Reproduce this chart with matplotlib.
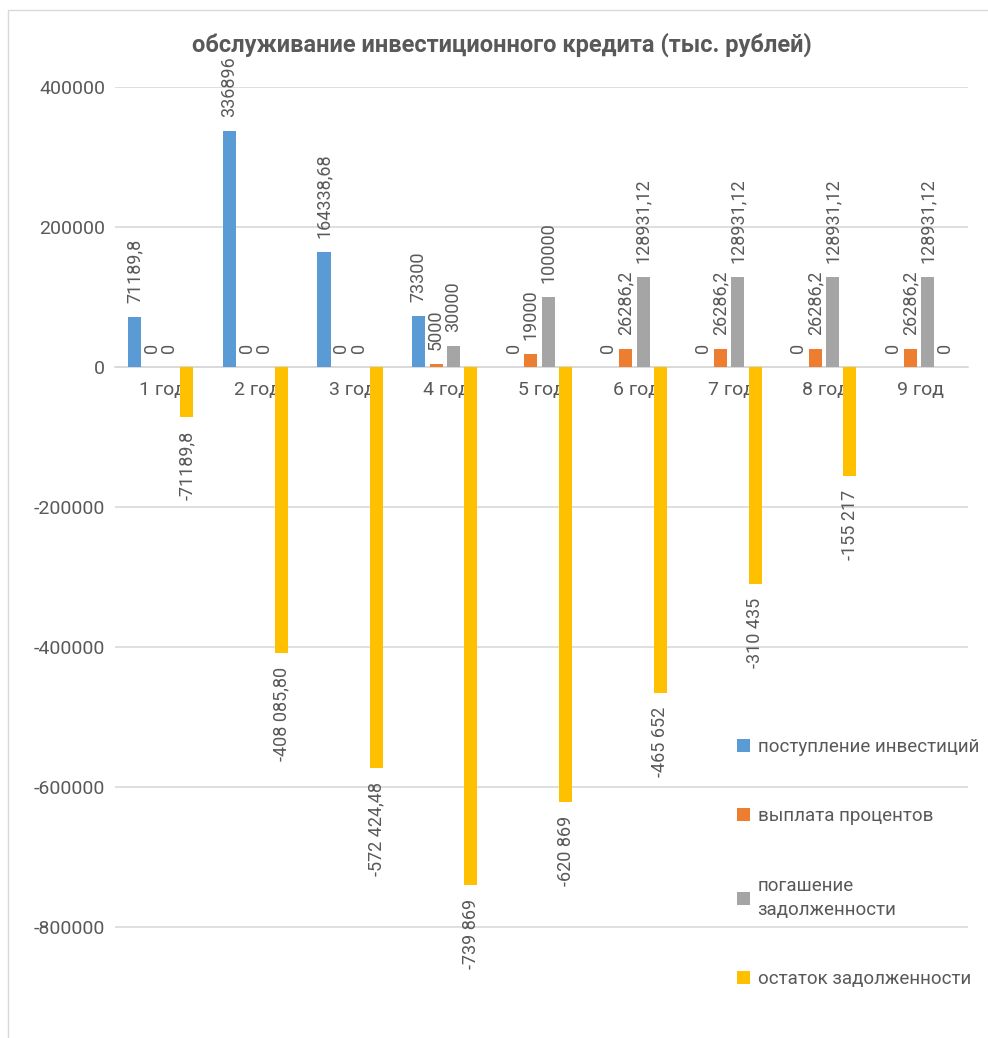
import numpy as np
import matplotlib
matplotlib.use("Agg")
import matplotlib.pyplot as plt
from matplotlib.patches import Rectangle

plt.rcParams['font.family'] = ['Roboto', 'DejaVu Sans']

#---------------------- data ----------------------
years = ["1 год", "2 год", "3 год", "4 год", "5 год", "6 год", "7 год", "8 год", "9 год"]
series_names = ["поступление инвестиций", "выплата процентов",
                "погашение\nзадолженности", "остаток задолженности"]

invest = [71189.8, 336896, 164338.68, 73300, 0, 0, 0, 0, 0]
percent = [0, 0, 0, 5000, 19000, 26286.2, 26286.2, 26286.2, 26286.2]
repay = [0, 0, 0, 30000, 100000, 128931.12, 128931.12, 128931.12, 128931.12]
rest = [-71189.8, -408085.80, -572424.48, -739869, -620869, -465652, -310435, -155217, 0]

invest_lbl = ["71189,8", "336896", "164338,68", "73300", "0", "0", "0", "0", "0"]
percent_lbl = ["0", "0", "0", "5000", "19000", "26286,2", "26286,2", "26286,2", "26286,2"]
repay_lbl = ["0", "0", "0", "30000", "100000", "128931,12", "128931,12", "128931,12", "128931,12"]
rest_lbl = ["-71189,8", "-408 085,80", "-572 424,48", "-739 869", "-620 869",
            "-465 652", "-310 435", "-155 217", "0"]

yticks = [400000, 200000, 0, -200000, -400000, -600000, -800000]

colors = ["#5B9BD5", "#ED7D31", "#A5A5A5", "#FFC000"]
TXT = "#595959"

#---------------------- figure ----------------------
W, H = 988, 1038
fig = plt.figure(figsize=(W / 100, H / 100), dpi=100)

# chart frame
fig.patches.append(Rectangle((8 / W, -0.1), 1.2, 1.1 - 10 / H, transform=fig.transFigure,
                             fill=False, edgecolor="#D9D9D9", linewidth=1))

# axes: 400000 at px 87, 0 at px 367
px_per_unit = (367 - 87) / 400000
y_bottom = -(H - 367) / px_per_unit
ax = fig.add_axes([115 / W, 0, (968 - 115) / W, (H - 87) / H])
ax.set_ylim(y_bottom, 400000)
ax.set_xlim(-0.5, len(years) - 0.5)

# category axis line at zero (set before tick labels, it resets ticks)
for s in ["left", "right", "top"]:
    ax.spines[s].set_visible(False)
ax.spines["bottom"].set_position(("data", 0))
ax.spines["bottom"].set_color("#D9D9D9")
ax.spines["bottom"].set_linewidth(1.2)
ax.spines["bottom"].set_zorder(2)

x = np.arange(len(years))
slot = 0.183
bw = 0.138
all_vals = [invest, percent, repay, rest]
all_lbls = [invest_lbl, percent_lbl, repay_lbl, rest_lbl]

for i, (vals, lbls) in enumerate(zip(all_vals, all_lbls)):
    xpos = x + (i - 1.5) * slot - 0.02
    ax.bar(xpos, vals, width=bw, color=colors[i], label=series_names[i], zorder=3)
    for xp, v, lb in zip(xpos, vals, lbls):
        if v < 0:
            ax.annotate(lb, (xp, v), xytext=(0, -10), textcoords="offset points",
                        rotation=90, ha="center", va="top", fontsize=13, color=TXT)
        else:
            ax.annotate(lb, (xp, v), xytext=(0, 10), textcoords="offset points",
                        rotation=90, ha="center", va="bottom", fontsize=13, color=TXT)

# grid
ax.set_yticks(yticks)
ax.set_yticklabels([str(t) for t in yticks], fontsize=14, color=TXT)
ax.yaxis.grid(True, color="#D9D9D9", linewidth=1.2, zorder=0)
ax.tick_params(axis="y", length=0, pad=7)

ax.set_xticks(x)
ax.set_xticklabels(years, fontsize=14, color=TXT)
ax.tick_params(axis="x", length=0, pad=10)

fig.text(502 / W, 1 - 45 / H, "обслуживание инвестиционного кредита (тыс. рублей)",
         ha="center", va="center", fontsize=17, fontweight="bold", color=TXT)

leg = fig.legend(loc="upper left", bbox_to_anchor=(720 / W, 1 - 721 / H),
                 frameon=False, fontsize=13.5, labelspacing=2.75,
                 handlelength=0.7, handleheight=0.7, handletextpad=0.4)
for t in leg.get_texts():
    t.set_color(TXT)
    t.set_linespacing(1.4)

fig.savefig("out.png", dpi=100)
